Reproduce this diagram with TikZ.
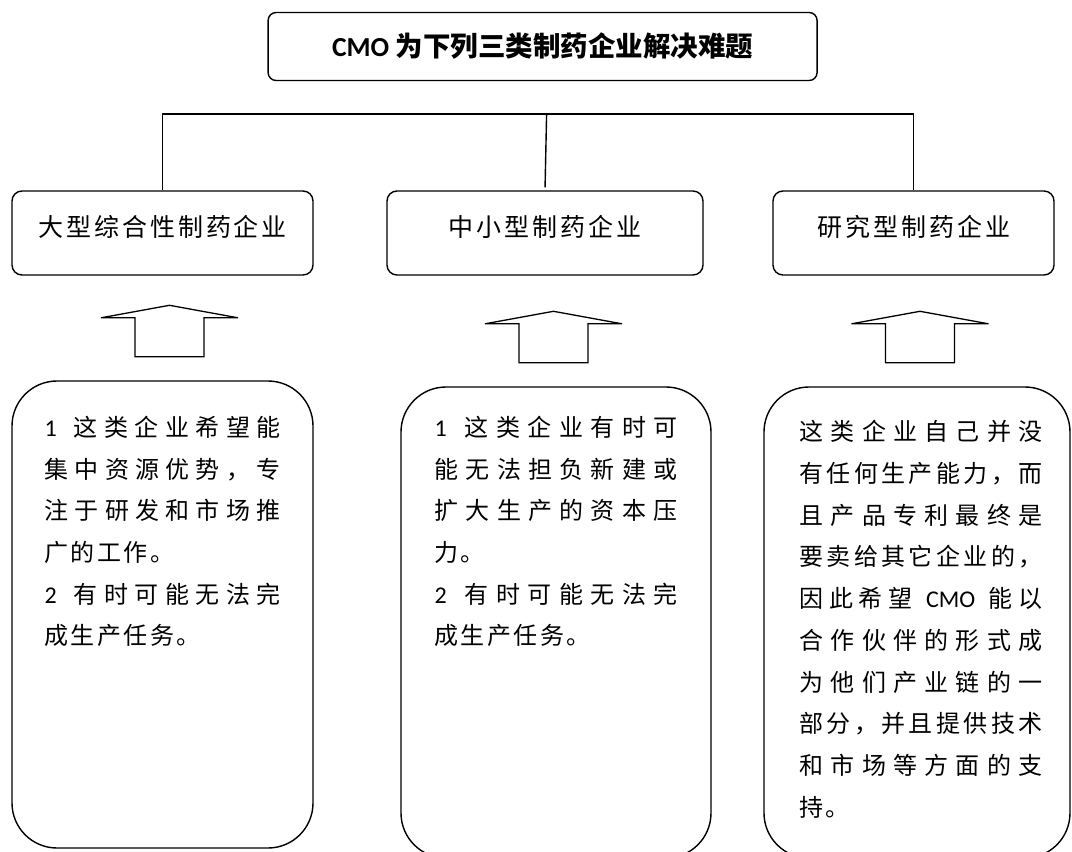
\documentclass[tikz,border=0pt]{standalone}
\usepackage{fontspec}
\setmainfont{Noto Sans CJK SC}
\newfontfamily\latfont{Carlito}
\usetikzlibrary{positioning,calc}
\tikzset{
  basic/.style     = {draw, line width=1.4pt, rectangle, inner sep=0pt},
  head/.style      = {basic, rounded corners=8pt, minimum width=549pt,
                      minimum height=68pt, font=\fontsize{27.5}{30}\selectfont\bfseries},
  kind/.style      = {basic, rounded corners=10pt, minimum height=84pt,
                      text height=14pt, text depth=7pt, font=\fontsize{25}{28}\selectfont},
  info/.style      = {basic, rounded corners=45pt},
  infotext/.style  = {inner sep=0pt, align=left, font=\fontsize{24}{41.7}\selectfont},
  bar/.style       = {line width=1.4pt},
  blockarrow/.style = {line width=1.3pt, line join=miter}
}
\makeatletter
\newcommand{\lat}[1]{{\latfont #1}}
\newcommand{\fullline}[1]{\leavevmode\hbox to \linewidth{\@tfor\onechar:=#1\do{\onechar\hfil}\unskip}}
\newcommand{\partline}[2][2.4pt]{\leavevmode\hbox{\@tfor\onechar:=#2\do{\onechar\hskip#1}\unskip}}
\makeatother

\begin{document}
\begin{tikzpicture}[x=1pt, y=-1pt]
\useasboundingbox (0,0) rectangle (1072,852);

% title box
\node[head] (top) at (542.6,46.5) {\lat{CMO} 为下列三类制药企业解决难题};

% the three kinds of companies
\node[kind, minimum width=301pt] (c1) at (162.5,233) {\partline[3pt]{大型综合性制药企业}};
\node[kind, minimum width=316pt] (c2) at (545,233)   {\partline[3pt]{中小型制药企业}};
\node[kind, minimum width=281pt] (c3) at (913.5,233) {\partline[3pt]{研究型制药企业}};

% bracket above the kinds
\coordinate (fork) at (546.6,114);
\draw[bar] (c1.north) |- (fork) -| (c3.north);
\draw[bar, shorten >=3pt] (fork) -- (c2.north);

% tall boxes with the reasons
\node[info, minimum width=301pt, minimum height=467pt] (d1) at (162.5,614.5) {};
\node[info, minimum width=310pt, minimum height=471pt] (d2) at (556,622.5) {};
\node[info, minimum width=306pt, minimum height=471pt] (d3) at (917,622.5) {};

\node[infotext, text width=236pt, below right=56pt and 33pt of d1.north west, anchor=base west] (t1) {%
  \fullline{{\lat{1}\hspace{.45em}}这类企业希望能}\\
  \fullline{集中资源优势，专}\\
  \fullline{注于研发和市场推}\\
  \partline{广的工作。}\\
  \fullline{{\lat{2}\hspace{.45em}}有时可能无法完}\\
  \partline{成生产任务。}};
\node[infotext, text width=243pt, below right=50pt and 34pt of d2.north west, anchor=base west] (t2) {%
  \fullline{{\lat{1}\hspace{.45em}}这类企业有时可}\\
  \fullline{能无法担负新建或}\\
  \fullline{扩大生产的资本压}\\
  \partline{力。}\\
  \fullline{{\lat{2}\hspace{.45em}}有时可能无法完}\\
  \partline{成生产任务。}};
\node[infotext, text width=243pt, below right=54.5pt and 36pt of d3.north west, anchor=base west] (t3) {%
  \fullline{这类企业自己并没}\\
  \fullline{有任何生产能力，而}\\
  \fullline{且产品专利最终是}\\
  \fullline{要卖给其它企业的，}\\
  \fullline{因此希望{\lat{~CMO~}}能以}\\
  \fullline{合作伙伴的形式成}\\
  \fullline{为他们产业链的一}\\
  \fullline{部分，并且提供技术}\\
  \fullline{和市场等方面的支}\\
  \partline{持。}};

% hollow arrows from each tall box up to its kind
\foreach \i/\dx in {1/7,2/-2.5,3/3}
  \draw[blockarrow] ($(d\i.north)+(\dx,-23.5)$) ++(-34.5,0) -- ++(0,-39) -- ++(-34,0)
    -- ++(68.5,-12.5) -- ++(68.5,12.5) -- ++(-34,0) -- ++(0,39) -- cycle;
\end{tikzpicture}
\end{document}
